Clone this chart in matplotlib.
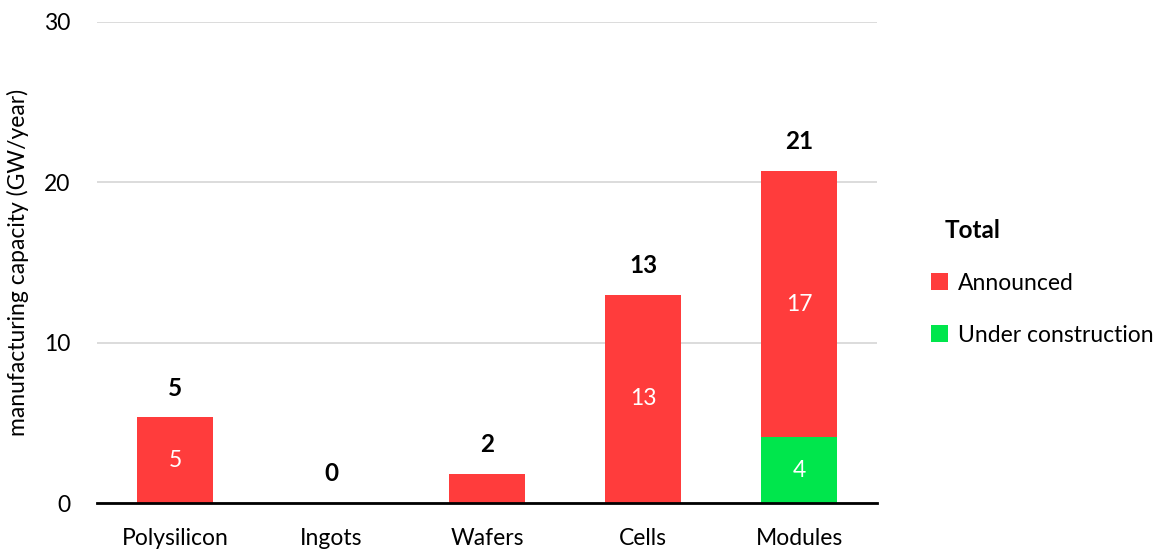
import numpy as np
import matplotlib.pyplot as plt

plt.rcParams['font.family'] = ['Lato', 'DejaVu Sans']

# capacity by supply-chain step, GW/year
steps = ['Polysilicon', 'Ingots', 'Wafers', 'Cells', 'Modules']
under_construction = [0.0, 0.0, 0.0, 0.0, 4.1]
announced = [5.35, 0.0, 1.8, 13.0, 16.6]

red = '#FF3C3C'
green = '#00E64C'

fig = plt.figure(figsize=(11.61, 5.49), dpi=100)
ax = fig.add_axes([97 / 1161, 1 - 503 / 549, 780 / 1161, 481 / 549])

x = np.arange(len(steps))
uc = np.array(under_construction)
an = np.array(announced)
total = uc + an
w = 0.49

ax.bar(x, uc, w, color=green, label='Under construction', zorder=3)
ax.bar(x, an, w, bottom=uc, color=red, label='Announced', zorder=3)

# segment values inside the bars
for xi, b, v in zip(x, np.zeros_like(uc), uc):
    if v >= 3:
        ax.text(xi, b + v / 2, f'{v:.0f}', color='white', ha='center', va='center', fontsize=16.5)
for xi, b, v in zip(x, uc, an):
    if v >= 3:
        ax.text(xi, b + v / 2, f'{v:.0f}', color='white', ha='center', va='center', fontsize=16.5)

# totals above the bars
for xi, t in zip(x, total):
    ax.annotate(f'{t:.0f}', (xi, t), xytext=(0, 21), textcoords='offset points',
                ha='center', va='center', fontsize=17.5, fontweight='bold')

ax.set_xlim(-0.5, len(steps) - 0.5)
ax.set_ylim(0, 30)
ax.set_yticks([0, 10, 20, 30])
ax.set_xticks(x)
ax.set_xticklabels(steps)
ax.tick_params(axis='both', length=0, labelsize=16.5)
ax.tick_params(axis='y', pad=19)
ax.tick_params(axis='x', pad=18)
ax.yaxis.grid(True, color='#D9D9D9', linewidth=1.3, zorder=0)
ax.set_axisbelow(True)
for s in ['top', 'right', 'left']:
    ax.spines[s].set_visible(False)
ax.spines['bottom'].set_linewidth(2)
ax.spines['bottom'].set_zorder(4)
ax.set_ylabel('manufacturing capacity (GW/year)', fontsize=16.5, labelpad=11)

handles, labels = ax.get_legend_handles_labels()
fig.text(945 / 1161, 1 - 230 / 549, 'Total', fontsize=17.5, fontweight='bold', va='center')
fig.legend(handles[::-1], labels[::-1], loc='upper left',
           bbox_to_anchor=(910 / 1161, 1 - 252 / 549), frameon=False, fontsize=16.5,
           handlelength=0.75, handleheight=0.75, handletextpad=0.45, labelspacing=1.35)

fig.savefig('out.png', dpi=100)
